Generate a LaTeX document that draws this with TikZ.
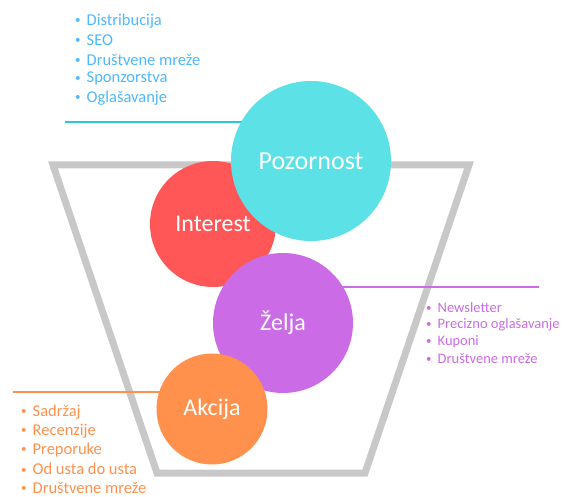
\documentclass[tikz,border=0pt]{standalone}
\usepackage{fontspec}
\setmainfont{Carlito}
\definecolor{funnelgray}{HTML}{C8C8C8}
\definecolor{pozcyan}{HTML}{5CE1E6}
\definecolor{pozline}{HTML}{29C5E6}
\definecolor{pozlist}{HTML}{4DB8FF}
\definecolor{intred}{HTML}{FF5757}
\definecolor{zelpurple}{HTML}{CB6CE6}
\definecolor{akcorange}{HTML}{FF914D}
\newcommand{\dotitem}{\raisebox{1.6pt}{\fontsize{11}{11}\selectfont\textbullet}\hspace{6pt}}
\begin{document}
\begin{tikzpicture}[x=1pt,y=-1pt,
    stage/.style={circle,inner sep=0pt,text=white,font=\fontsize{24}{24}\selectfont},
    funnel/.style={draw=funnelgray,line width=7pt,line join=miter},
    lead/.style={line width=2.5pt},
    item/.style={anchor=west,inner sep=0pt,font=\fontsize{16.5}{16.5}\selectfont}]
    \useasboundingbox (0,0) rectangle (563,497);
    % Funnel
    \draw[funnel] (53,165) -- (157,473) -- (365,473) -- (469,165) -- cycle;
    % Centres and leads
    \coordinate (intC) at (213,224);
    \coordinate (pozC) at (311,161);
    \coordinate (zelC) at (283,323);
    \coordinate (akcC) at (212,409);
    \coordinate (pozL) at (65,122);
    \coordinate (zelR) at (539,287);
    \coordinate (akcL) at (13,392);
    % Stages
    \node[stage,fill=intred,minimum size=126pt] (int) at (intC) {Interest};
    \draw[lead,pozline] (pozL) -- (pozL -| pozC);
    \node[stage,fill=pozcyan,minimum size=160pt,font=\fontsize{26}{26}\selectfont] (poz) at (pozC) {Pozornost};
    \draw[lead,zelpurple] (zelR) -- (zelR -| zelC);
    \node[stage,fill=zelpurple,minimum size=140pt] (zel) at (zelC) {Želja};
    \draw[lead,akcorange] (akcL) -- (akcL -| akcC);
    \node[stage,fill=akcorange,minimum size=111pt] (akc) at (akcC) {Akcija};
    % Lists
    \foreach \t [count=\i from 0] in {Distribucija,SEO,Društvene mreže,Sponzorstva,Oglašavanje}
      \node[item,text=pozlist] (pozitem\i) at (75,{21+19.3*\i}) {\dotitem\t};
    \foreach \t [count=\i from 0] in {Newsletter,Precizno oglašavanje,Kuponi,Društvene mreže}
      \node[item,text=zelpurple,font=\fontsize{14.5}{14.5}\selectfont] (zelitem\i) at (426,{308+17*\i}) {\dotitem\t};
    \foreach \t [count=\i from 0] in {Sadržaj,Recenzije,Preporuke,Od usta do usta,Društvene mreže}
      \node[item,text=akcorange] (akcitem\i) at (21,{412+19*\i}) {\dotitem\t};
\end{tikzpicture}
\end{document}
